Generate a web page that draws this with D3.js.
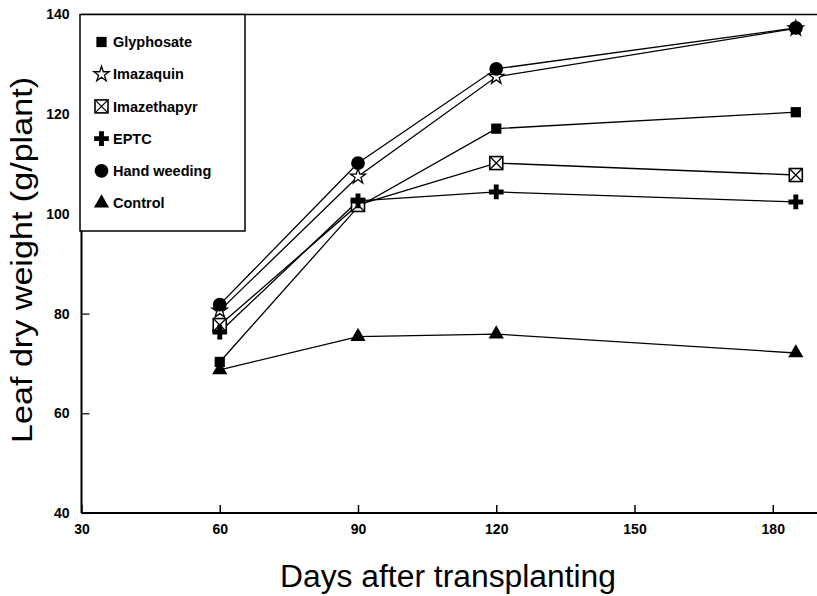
<!DOCTYPE html>
<html>
<head>
<meta charset="utf-8">
<script src="https://cdn.jsdelivr.net/npm/d3@7"></script>
<style>
  html, body { margin: 0; padding: 0; background: #fff; }
  svg { display: block; }
  text { font-family: "Liberation Sans", Arial, Helvetica, sans-serif; fill: #000; }
</style>
</head>
<body>
<svg id="chart" width="817" height="596"></svg>
<script>
// ---- data ----
const days = [60, 90, 120, 185];
const seriesNames = ["Glyphosate", "Imazaquin", "Imazethapyr", "EPTC", "Hand weeding", "Control"];
const glyphosate  = [70.3, 101.4, 117.1, 120.4];
const imazaquin   = [80.6, 107.5, 127.5, 137.2];
const imazethapyr = [77.7, 101.8, 110.2, 107.8];
const eptc        = [76.3, 102.6, 104.4, 102.4];
const handWeeding = [81.8, 110.2, 129.1, 137.3];
const control     = [68.7, 75.4, 75.9, 72.1];
const xTicks = [30, 60, 90, 120, 150, 180];
const yTicks = [40, 60, 80, 100, 120, 140];
const xTitle = "Days after transplanting";
const yTitle = "Leaf dry weight (g/plant)";

const seriesValues = [glyphosate, imazaquin, imazethapyr, eptc, handWeeding, control];
const markerTypes = ["square", "star", "xsquare", "cross", "circle", "triangle"];

// ---- layout ----
const svg = d3.select("#chart");
const x = d3.scaleLinear().domain([30, 189.6]).range([81.5, 817]);
const y = d3.scaleLinear().domain([40, 140]).range([513, 14.5]);

// symbol drawing
function drawMarker(g, type, cx, cy) {
  const t = `translate(${cx},${cy})`;
  if (type === "square") {
    g.append("path").attr("transform", t).attr("d", d3.symbol(d3.symbolSquare, 105)())
      .attr("fill", "#000");
  } else if (type === "star") {
    g.append("path").attr("transform", t).attr("d", d3.symbol(d3.symbolStar, 72)())
      .attr("fill", "#fff").attr("stroke", "#000").attr("stroke-width", 1.3);
  } else if (type === "xsquare") {
    const h = 6.5;
    g.append("rect").attr("x", cx - h).attr("y", cy - h).attr("width", 2 * h).attr("height", 2 * h)
      .attr("fill", "#fff").attr("stroke", "#000").attr("stroke-width", 1.6);
    g.append("path").attr("d", `M${cx - h},${cy - h}L${cx + h},${cy + h}M${cx + h},${cy - h}L${cx - h},${cy + h}`)
      .attr("stroke", "#000").attr("stroke-width", 1.3).attr("fill", "none");
  } else if (type === "cross") {
    g.append("path").attr("transform", t).attr("d", d3.symbol(d3.symbolCross, 120)())
      .attr("fill", "#000");
  } else if (type === "circle") {
    g.append("path").attr("transform", t).attr("d", d3.symbol(d3.symbolCircle, 150)())
      .attr("fill", "#000");
  } else if (type === "triangle") {
    g.append("path").attr("transform", t).attr("d", d3.symbol(d3.symbolTriangle, 100)())
      .attr("fill", "#000");
  }
}

// ---- axes ----
const xAxis = d3.axisBottom(x).tickValues(xTicks).tickSizeInner(-8).tickSizeOuter(0).tickPadding(11)
  .tickFormat(d3.format("d"));
const gx = svg.append("g").attr("transform", `translate(0,${y(40)})`).call(xAxis);
gx.select(".domain").remove();
gx.selectAll(".tick line").attr("stroke", "#000").attr("stroke-width", 1.5);
gx.selectAll(".tick text").attr("font-size", 14).attr("font-weight", "bold").attr("fill", "#000");

const yAxis = d3.axisLeft(y).tickValues(yTicks).tickSizeInner(-8).tickSizeOuter(0).tickPadding(12)
  .tickFormat(d3.format("d"));
const gy = svg.append("g").attr("transform", `translate(${x(30)},0)`).call(yAxis);
gy.select(".domain").remove();
gy.selectAll(".tick line").attr("stroke", "#000").attr("stroke-width", 1.2);
gy.selectAll(".tick text").attr("font-size", 14).attr("font-weight", "bold").attr("fill", "#000");

// frame lines
const frame = svg.append("g").attr("stroke", "#000").attr("fill", "none");
frame.append("line").attr("x1", x(30)).attr("x2", 817).attr("y1", y(40)).attr("y2", y(40)).attr("stroke-width", 2);
frame.append("line").attr("x1", x(30)).attr("x2", x(30)).attr("y1", y(140)).attr("y2", y(40)).attr("stroke-width", 2);
frame.append("line").attr("x1", x(30)).attr("x2", 817).attr("y1", y(140)).attr("y2", y(140)).attr("stroke-width", 1.5);

// ---- lines ----
const line = d3.line().x((d, i) => x(days[i])).y(d => y(d));
const linesG = svg.append("g");
seriesValues.forEach(vals => {
  linesG.append("path").attr("d", line(vals)).attr("fill", "none")
    .attr("stroke", "#000").attr("stroke-width", 1.3);
});

// ---- markers ----
const marksG = svg.append("g");
seriesValues.forEach((vals, s) => {
  vals.forEach((v, i) => drawMarker(marksG, markerTypes[s], x(days[i]), y(v)));
});

// ---- legend ----
const leg = svg.append("g");
leg.append("rect").attr("x", 80).attr("y", y(140)).attr("width", 165).attr("height", 231 - y(140))
  .attr("fill", "#fff").attr("stroke", "#000").attr("stroke-width", 1.5);
seriesNames.forEach((name, i) => {
  const cy = 42 + i * 32.2;
  drawMarker(leg, markerTypes[i], 101.5, cy);
  leg.append("text").attr("x", 113).attr("y", cy).attr("dy", "0.36em")
    .attr("font-size", 14.5).attr("font-weight", "bold").text(name);
});

// ---- titles ----
svg.append("text").attr("x", 448).attr("y", 587).attr("text-anchor", "middle")
  .attr("font-size", 31).attr("textLength", 336).attr("lengthAdjust", "spacingAndGlyphs").text(xTitle);
svg.append("text").attr("transform", "translate(32,260) rotate(-90)").attr("text-anchor", "middle")
  .attr("font-size", 29).attr("textLength", 366).attr("lengthAdjust", "spacingAndGlyphs").text(yTitle);
</script>
</body>
</html>
